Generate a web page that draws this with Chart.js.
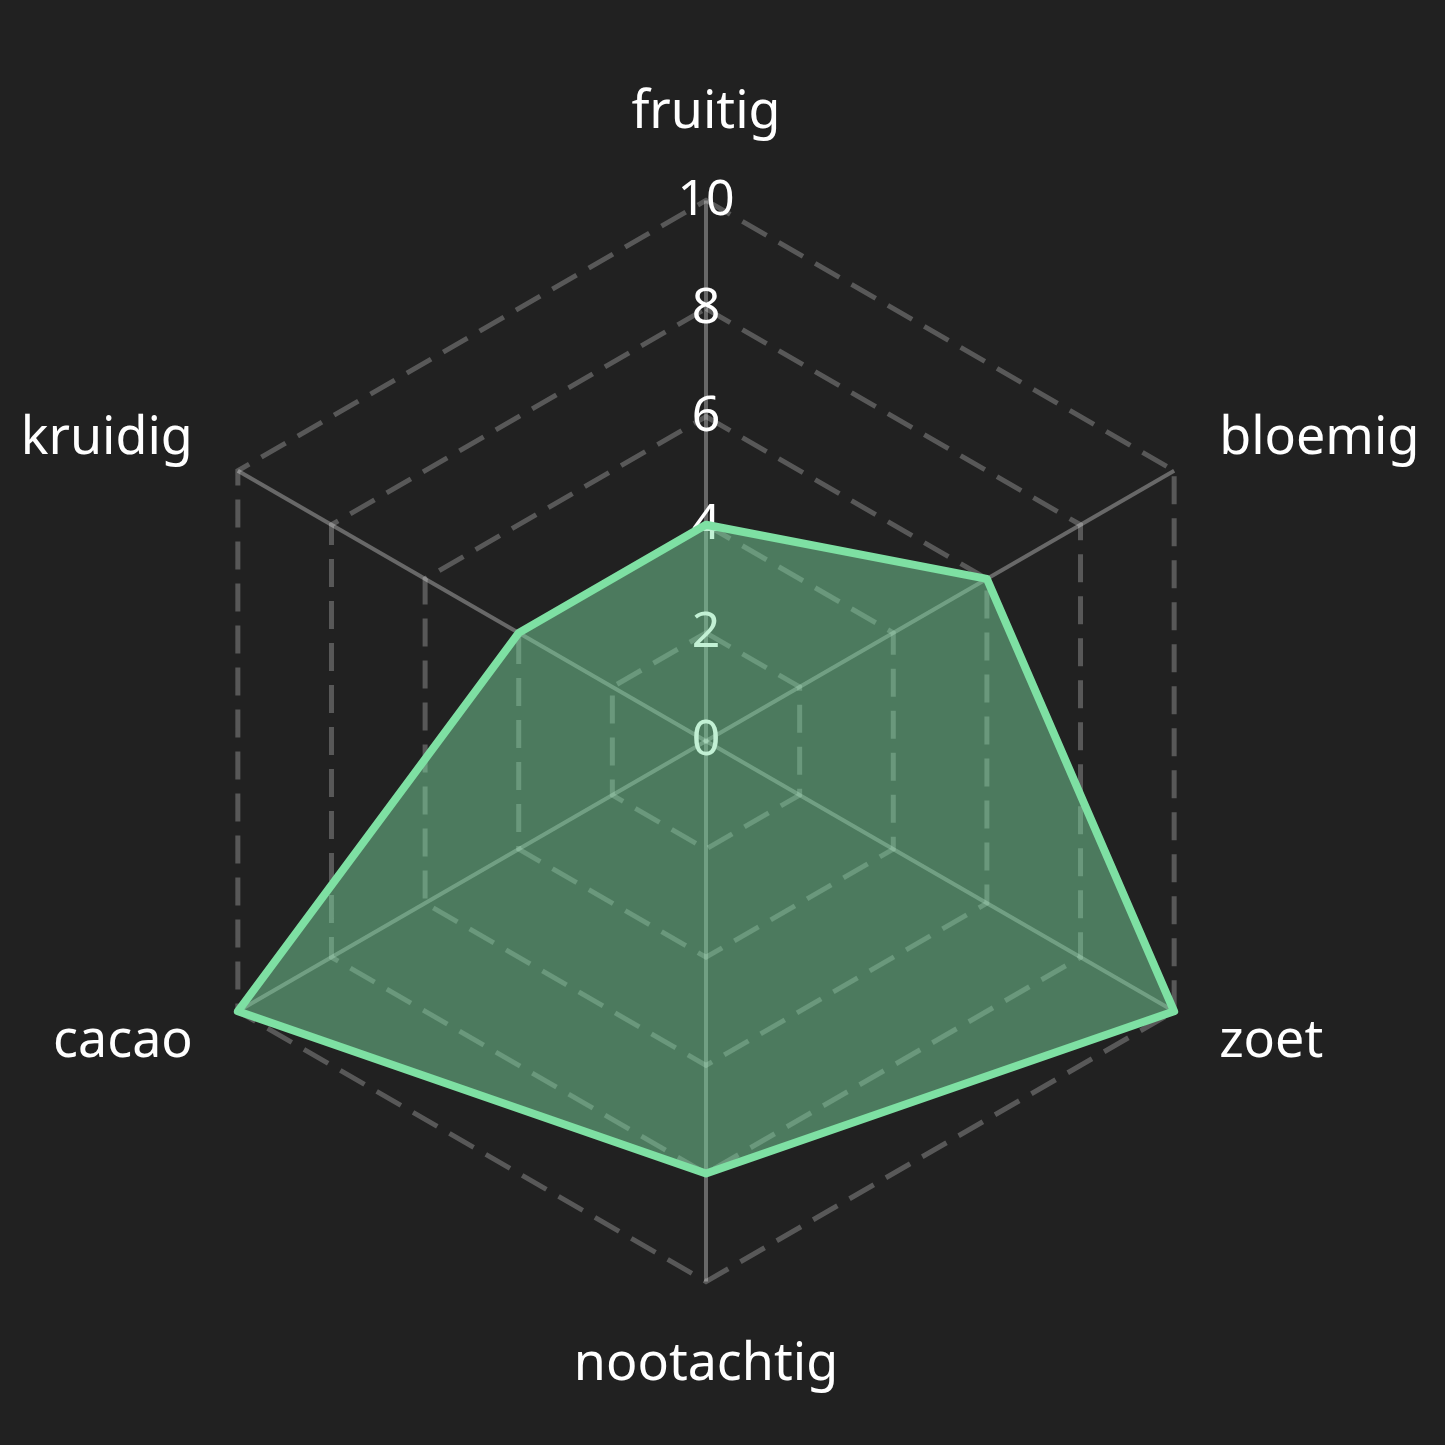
<!DOCTYPE html>
<html lang="en">
<head>
    <meta charset="UTF-8">
    <title>Smaakprofiel</title>
    <script src="https://cdn.jsdelivr.net/npm/chart.js"></script>
    <style>
        html, body { margin: 0; padding: 0; background: #212121; }
        .wrap { width: 1445px; height: 1445px; }
    </style>
</head>
<body>
    <div class="wrap"><canvas id="flavourChart" width="1445" height="1445"></canvas></div>
    <script>
        const categories = ["fruitig", "bloemig", "zoet", "nootachtig", "cacao", "kruidig"];
        const scores = [4, 6, 10, 8, 10, 4];
        const tickValues = [0, 2, 4, 6, 8, 10];

        const ctx = document.getElementById("flavourChart").getContext("2d");
        new Chart(ctx, {
            type: "radar",
            data: {
                labels: categories,
                datasets: [{
                    label: "smaak",
                    data: scores,
                    backgroundColor: "rgba(126, 224, 163, 0.47)",
                    borderColor: "#7ee0a3",
                    borderWidth: 8,
                    borderJoinStyle: "round",
                    pointRadius: 0,
                    fill: true
                }]
            },
            options: {
                responsive: false,
                animation: false,
                layout: { padding: { top: 62, bottom: 28, left: 6, right: 6 } },
                plugins: {
                    legend: { display: false },
                    tooltip: { enabled: false }
                },
                scales: {
                    r: {
                        // tiny negative min so chart.js also prints the "0" label
                        min: -0.0001,
                        max: 10,
                        afterBuildTicks: (scale) => {
                            scale.ticks = tickValues.map(v => ({ value: v }));
                        },
                        angleLines: { color: "rgba(255,255,255,0.32)", lineWidth: 4 },
                        grid: { color: "rgba(255,255,255,0.25)", lineWidth: 5 },
                        border: { dash: [28, 14] },
                        ticks: {
                            color: "#ffffff",
                            showLabelBackdrop: false,
                            font: { family: "'Noto Sans'", size: 50 }
                        },
                        pointLabels: {
                            color: "#ffffff",
                            // top and bottom labels sit further out than the side ones
                            padding: (c) => c.index === 0 ? 55 : (c.index === 3 ? 51 : 25),
                            font: { family: "'Noto Sans'", size: 52, lineHeight: 0.2 }
                        }
                    }
                }
            }
        });
    </script>
</body>
</html>
